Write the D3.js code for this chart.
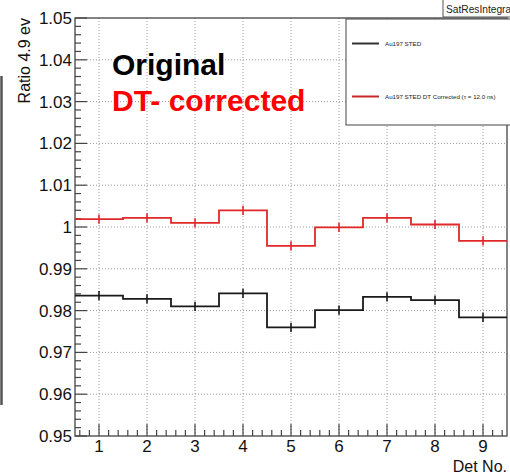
<!DOCTYPE html>
<html><head><meta charset="utf-8">
<script src="https://cdn.jsdelivr.net/npm/d3@7/dist/d3.min.js"></script>
<style>body{margin:0;background:#fff}svg{display:block;font-family:"Liberation Sans",Arial,sans-serif}</style>
</head><body><svg id="c" width="510" height="474"></svg>
<script>
const detectors = [1,2,3,4,5,6,7,8,9];
const original = [0.9836,0.9828,0.9810,0.9841,0.9760,0.9801,0.9833,0.9825,0.9784];
const corrected = [1.0019,1.0022,1.0010,1.0040,0.9955,0.9999,1.0022,1.0006,0.9967];
const errOriginal = [0.0011,0.0011,0.0011,0.0011,0.0011,0.0011,0.0011,0.0011,0.0011];
const errCorrected = [0.0011,0.0011,0.0011,0.0011,0.0011,0.0011,0.0011,0.0011,0.0011];
const yTicks = [0.95,0.96,0.97,0.98,0.99,1,1.01,1.02,1.03,1.04,1.05];
const yTickLabels = ["0.95","0.96","0.97","0.98","0.99","1","1.01","1.02","1.03","1.04","1.05"];
const xTicks = [1,2,3,4,5,6,7,8,9];
const legendLabels = ["Au197 STED","Au197 STED DT Corrected (\u03c4 = 12.0 ns)"];

const svg = d3.select("#c");
const L=75, R=507, T=18, B=436;
const x = d3.scaleLinear().domain([0.5,9.5]).range([L,R]);
const y = d3.scaleLinear().domain([0.95,1.05]).range([B,T]);

// left-edge artifact
svg.append("line").attr("x1",1.5).attr("x2",1.5).attr("y1",76).attr("y2",405).attr("stroke","#555").attr("stroke-width",2.5);

// grid
const g = svg.append("g");
g.selectAll("line.gx").data(xTicks).join("line").attr("x1",d=>x(d)).attr("x2",d=>x(d)).attr("y1",T).attr("y2",B)
 .attr("stroke","#999").attr("stroke-width",1).attr("stroke-dasharray","1,2");
g.selectAll("line.gy").data(yTicks.slice(1,-1)).join("line").attr("y1",d=>y(d)).attr("y2",d=>y(d)).attr("x1",L).attr("x2",R)
 .attr("stroke","#999").attr("stroke-width",1).attr("stroke-dasharray","1,2");

// axes
const yMinor = d3.range(0,51).map(i=>0.95+i*0.002).filter(v=>Math.abs(Math.round(v*100)-v*100)>1e-6);
const xMinor = d3.range(3,48).map(i=>i*0.2).filter(v=>v>=0.5&&v<=9.5&&Math.abs(v-Math.round(v))>1e-6);
const ax = svg.append("g").attr("stroke","#444").attr("stroke-width",1.2);
ax.selectAll("line.ymaj").data(yTicks).join("line").attr("x1",L).attr("x2",L+12).attr("y1",d=>y(d)).attr("y2",d=>y(d));
ax.selectAll("line.ymin").data(yMinor).join("line").attr("x1",L).attr("x2",L+6).attr("y1",d=>y(d)).attr("y2",d=>y(d));
ax.selectAll("line.xmaj").data(xTicks).join("line").attr("x1",d=>x(d)).attr("x2",d=>x(d)).attr("y1",B).attr("y2",B-12);
ax.selectAll("line.xmin").data(xMinor).join("line").attr("x1",d=>x(d)).attr("x2",d=>x(d)).attr("y1",B).attr("y2",B-6);
svg.append("rect").attr("x",L).attr("y",T).attr("width",R-L).attr("height",B-T).attr("fill","none").attr("stroke","#444").attr("stroke-width",1.3);

svg.selectAll("text.yl").data(yTicks).join("text").attr("x",L-3).attr("y",d=>y(d)+6)
 .attr("text-anchor","end").attr("font-size",17).attr("fill","#111").text((d,i)=>yTickLabels[i]);
svg.selectAll("text.xl").data(xTicks).join("text").attr("x",d=>x(d)).attr("y",452)
 .attr("text-anchor","middle").attr("font-size",17).attr("fill","#111").text(d=>d);
svg.append("text").attr("x",507).attr("y",472).attr("text-anchor","end").attr("font-size",16).attr("fill","#111").text("Det No.");
svg.append("text").attr("transform","translate(30,18) rotate(-90)").attr("text-anchor","end").attr("font-size",16).attr("fill","#111").text("Ratio 4.9 ev");

// histograms
function drawHist(vals, errs, color){
  const pts=[];
  detectors.forEach((d,i)=>{pts.push([d-0.5,vals[i]]);pts.push([d+0.5,vals[i]]);});
  svg.append("path").datum(pts).attr("d",d3.line().x(p=>x(p[0])).y(p=>y(p[1])))
    .attr("fill","none").attr("stroke",color).attr("stroke-width",1.8);
  svg.selectAll(null).data(detectors).join("line").attr("x1",d=>x(d)).attr("x2",d=>x(d))
    .attr("y1",(d,i)=>y(vals[i]-errs[i])).attr("y2",(d,i)=>y(vals[i]+errs[i])).attr("stroke",color).attr("stroke-width",1.6);
}
drawHist(original, errOriginal, "#1a1a1a");
drawHist(corrected, errCorrected, "#e0282a");

// annotations
svg.append("text").attr("x",112).attr("y",75).attr("font-size",30).attr("font-weight","bold").attr("fill","#000").text("Original");
svg.append("text").attr("x",112).attr("y",111).attr("font-size",30).attr("font-weight","bold").attr("fill","#ff0000").text("DT- corrected");

// legend
svg.append("rect").attr("x",346).attr("y",19).attr("width",180).attr("height",106).attr("fill","#fff").attr("stroke","#444").attr("stroke-width",1);
const lc=["#333","#c8282a"], ly=[43.5,96.5];
legendLabels.forEach((t,i)=>{
  svg.append("line").attr("x1",352).attr("x2",379).attr("y1",ly[i]).attr("y2",ly[i]).attr("stroke",lc[i]).attr("stroke-width",2);
  svg.append("text").attr("x",385).attr("y",ly[i]+2).attr("font-size",6.2).attr("fill","#222").text(t);
});

// title box
svg.append("rect").attr("x",443).attr("y",-5).attr("width",80).attr("height",22).attr("fill","#fff").attr("stroke","#555").attr("stroke-width",1);
svg.append("text").attr("x",446).attr("y",12.5).attr("font-size",10.2).attr("fill","#222").text("SatResIntegra");
</script></body></html>
